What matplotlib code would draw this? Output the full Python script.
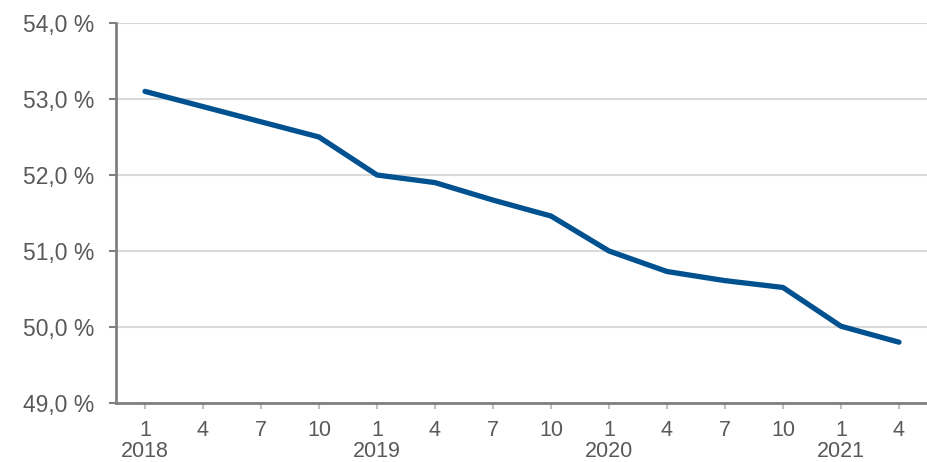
import matplotlib.pyplot as plt
import numpy as np

months = [1, 4, 7, 10, 1, 4, 7, 10, 1, 4, 7, 10, 1, 4]
years = [2018, None, None, None, 2019, None, None, None, 2020, None, None, None, 2021, None]
values = [53.1, 52.9, 52.7, 52.5, 52.0, 51.9, 51.67, 51.46, 51.0, 50.73, 50.61, 50.52, 50.01, 49.8]

plt.rcParams['font.family'] = ['Liberation Sans', 'DejaVu Sans']
grey = '#595959'

fig = plt.figure(figsize=(9.28, 4.62), dpi=100)
ax = fig.add_axes([116 / 928, 1 - 403 / 462, 1 - 116 / 928, 380 / 462])

x = np.arange(len(values))
ax.plot(x, values, color='#00518F', linewidth=3.8, solid_capstyle='round', solid_joinstyle='round', zorder=3)

ax.set_xlim(-0.5, len(values) - 0.5)
ax.set_ylim(49, 54)
ax.set_yticks(np.arange(49, 54.1, 1))
ax.set_yticklabels([f"{v:.1f} %".replace('.', ',') for v in np.arange(49, 54.1, 1)])

labels = [f"{m}\n{y}" if y else str(m) for m, y in zip(months, years)]
ax.set_xticks(x)
ax.set_xticklabels(labels, multialignment='center', linespacing=1.0)

ax.grid(axis='y', color='#D9D9D9', linewidth=1.5)
ax.set_axisbelow(True)
for s in ['top', 'right']:
    ax.spines[s].set_visible(False)
for s in ['left', 'bottom']:
    ax.spines[s].set_color('#808080')
    ax.spines[s].set_linewidth(2)
ax.tick_params(axis='y', colors='#808080', labelcolor=grey, labelsize=16.5, length=5, width=1.5, pad=10.5)
ax.tick_params(axis='x', colors='#BFBFBF', labelcolor=grey, labelsize=15.5, length=4, width=1.5, pad=8)

fig.savefig('out.png', dpi=100)
